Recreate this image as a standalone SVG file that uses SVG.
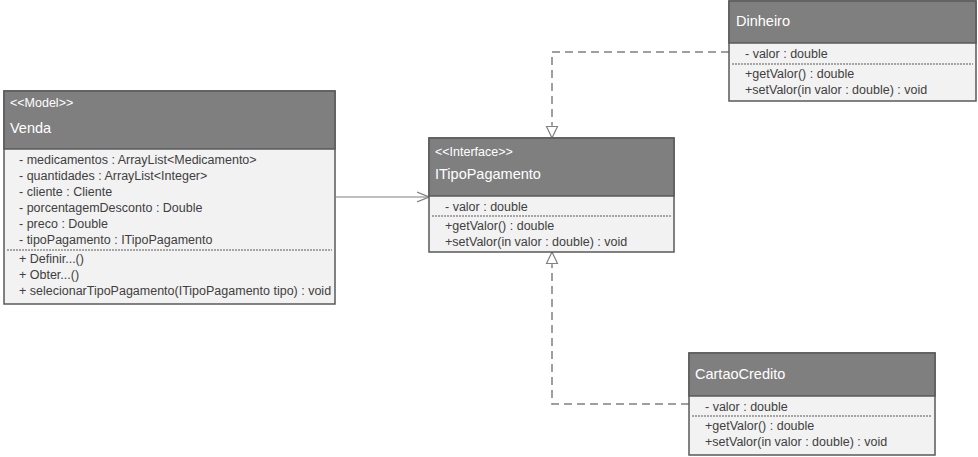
<svg xmlns="http://www.w3.org/2000/svg" width="978" height="457" viewBox="0 0 978 457">
  <defs>
    <style>
      .hdr { fill: #7f7f7f; stroke: #595959; stroke-width: 1.5; }
      .body { fill: #f2f2f2; stroke: #595959; stroke-width: 1.5; }
      .sep { stroke: #595959; stroke-width: 1; stroke-dasharray: 2 1; }
      .stereo { font-family: "Liberation Sans", Arial, sans-serif; font-size: 12.5px; fill: #ffffff; }
      .title { font-family: "Liberation Sans", Arial, sans-serif; font-size: 14.5px; fill: #ffffff; }
      .mem { font-family: "Liberation Sans", Arial, sans-serif; font-size: 12.5px; fill: #404040; }
      .dep { fill: none; stroke: #808080; stroke-width: 1.5; stroke-dasharray: 8 5; }
      .assoc { fill: none; stroke: #808080; stroke-width: 1.2; }
    </style>
    <marker id="open" viewBox="0 0 12 12" refX="12" refY="6" markerWidth="12" markerHeight="12" markerUnits="userSpaceOnUse" orient="auto">
      <path d="M0,1 L12,6 L0,11" fill="none" stroke="#808080" stroke-width="1.2"/>
    </marker>
    <marker id="tri" viewBox="0 0 12 14" refX="12" refY="7" markerWidth="12" markerHeight="14" markerUnits="userSpaceOnUse" orient="auto">
      <path d="M0.5,1.5 L12,7 L0.5,12.5 Z" fill="#ffffff" stroke="#808080" stroke-width="1.2"/>
    </marker>
  </defs>

  <!-- connectors -->
  <g id="connectors">
    <path class="assoc" d="M336,197 L429,197" marker-end="url(#open)"/>
    <path class="dep" d="M729,52 L552,52 L552,125"/>
    <path class="assoc" d="M552,125 L552,138" marker-end="url(#tri)"/>
    <path class="dep" d="M689,404 L552,404 L552,265"/>
    <path class="assoc" d="M552,265 L552,252" marker-end="url(#tri)"/>
  </g>

  <!-- Venda -->
  <g id="venda">
    <rect class="body" x="4" y="91" width="331" height="213"/>
    <rect class="hdr" x="4" y="91" width="331" height="58"/>
    <text class="stereo" x="10" y="107">&lt;&lt;Model&gt;&gt;</text>
    <text class="title" x="10" y="133">Venda</text>
    <text class="mem" x="19" y="164">- medicamentos : ArrayList&lt;Medicamento&gt;</text>
    <text class="mem" x="19" y="180">- quantidades : ArrayList&lt;Integer&gt;</text>
    <text class="mem" x="19" y="196">- cliente : Cliente</text>
    <text class="mem" x="19" y="212">- porcentagemDesconto : Double</text>
    <text class="mem" x="19" y="228">- preco : Double</text>
    <text class="mem" x="19" y="244">- tipoPagamento : ITipoPagamento</text>
    <line class="sep" x1="7" y1="250" x2="332" y2="250"/>
    <text class="mem" x="19" y="263">+ Definir...()</text>
    <text class="mem" x="19" y="279">+ Obter...()</text>
    <text class="mem" x="19" y="295">+ selecionarTipoPagamento(ITipoPagamento tipo) : void</text>
  </g>

  <!-- ITipoPagamento -->
  <g id="itipopagamento">
    <rect class="body" x="429" y="138" width="245" height="114"/>
    <rect class="hdr" x="429" y="138" width="245" height="58"/>
    <text class="stereo" x="435" y="156">&lt;&lt;Interface&gt;&gt;</text>
    <text class="title" x="435" y="179">ITipoPagamento</text>
    <text class="mem" x="445" y="211">- valor : double</text>
    <line class="sep" x1="432" y1="216" x2="671" y2="216"/>
    <text class="mem" x="445" y="230">+getValor() : double</text>
    <text class="mem" x="445" y="246">+setValor(in valor : double) : void</text>
  </g>

  <!-- Dinheiro -->
  <g id="dinheiro">
    <rect class="body" x="729" y="1" width="247" height="100"/>
    <rect class="hdr" x="729" y="1" width="247" height="42"/>
    <text class="title" x="736" y="26">Dinheiro</text>
    <text class="mem" x="745" y="58">- valor : double</text>
    <line class="sep" x1="732" y1="64" x2="973" y2="64"/>
    <text class="mem" x="745" y="78">+getValor() : double</text>
    <text class="mem" x="745" y="94">+setValor(in valor : double) : void</text>
  </g>

  <!-- CartaoCredito -->
  <g id="cartaocredito">
    <rect class="body" x="689" y="353" width="246" height="102"/>
    <rect class="hdr" x="689" y="353" width="246" height="43"/>
    <text class="title" x="695" y="379">CartaoCredito</text>
    <text class="mem" x="705" y="411">- valor : double</text>
    <line class="sep" x1="692" y1="416" x2="932" y2="416"/>
    <text class="mem" x="705" y="430">+getValor() : double</text>
    <text class="mem" x="705" y="446">+setValor(in valor : double) : void</text>
  </g>
</svg>
